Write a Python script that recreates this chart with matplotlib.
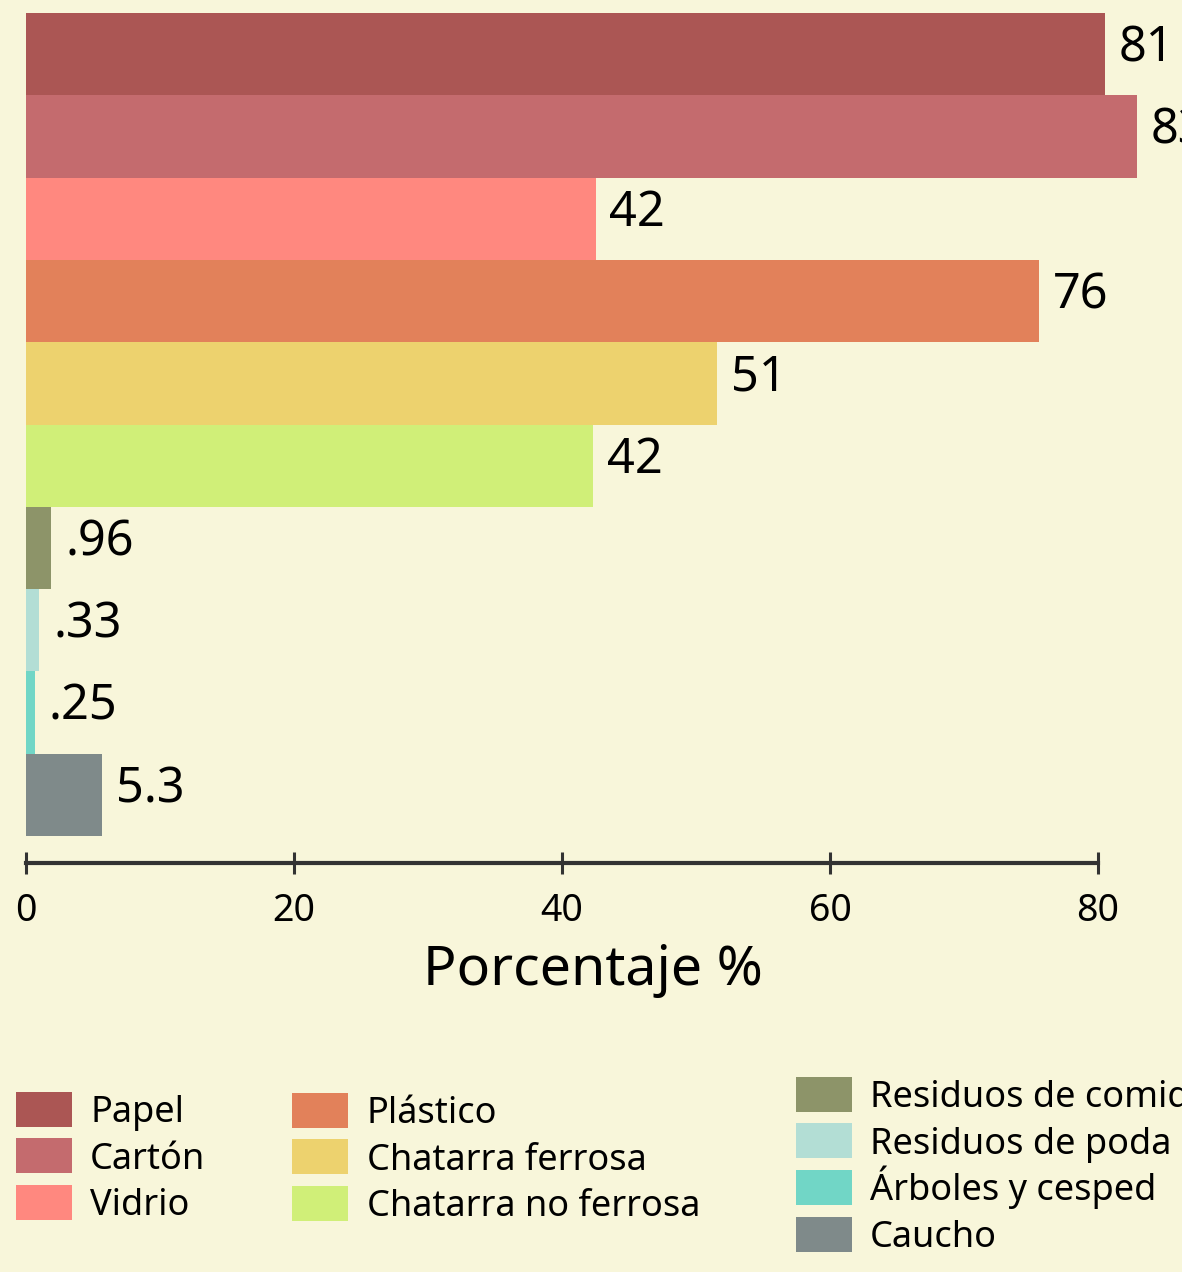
import matplotlib.pyplot as plt
from matplotlib.patches import Rectangle

plt.rcParams['font.family'] = ['Noto Sans', 'DejaVu Sans']

categorias = ['Papel', 'Cartón', 'Vidrio', 'Plástico', 'Chatarra ferrosa',
              'Chatarra no ferrosa', 'Residuos de comida', 'Residuos de poda',
              'Árboles y cesped', 'Caucho']
porcentaje = [80.5, 82.9, 42.5, 75.6, 51.6, 42.3, 1.9, 1.0, 0.65, 5.7]
etiquetas = ['81', '83', '42', '76', '51', '42', '.96', '.33', '.25', '5.3']
colores = ['#AB5654', '#C46B6E', '#FF887F', '#E2815A', '#EDD26E',
           '#D0EF78', '#8D9469', '#B3DED5', '#71D6C6', '#7F8A8A']
ticks_x = [0, 20, 40, 60, 80]

fondo = '#F8F6DA'
W, H = 1182, 1272

fig = plt.figure(figsize=(W / 100, H / 100), dpi=100, facecolor=fondo)
ax = fig.add_axes([26 / W, 1 - 863 / H, 1 - 26 / W, 850 / H])
ax.set_facecolor(fondo)

pos = list(range(len(categorias)))
ax.barh(pos, porcentaje, height=1.0, color=colores, linewidth=0)

for p, v, lab in zip(pos, porcentaje, etiquetas):
    ax.annotate(lab, (v, p), xytext=(10, 4), textcoords='offset points',
                va='center', ha='left', fontsize=35, color='black',
                annotation_clip=False)

ax.set_xlim(0, (W - 26) / 13.4)
ax.set_ylim(9.5 + 27 / 82.3, -0.5)

for s in ['top', 'right', 'left']:
    ax.spines[s].set_visible(False)
ax.spines['bottom'].set_bounds(0, 80)
ax.spines['bottom'].set_linewidth(3)
ax.spines['bottom'].set_color('#333333')

ax.set_yticks([])
ax.set_xticks(ticks_x)
ax.tick_params(axis='x', direction='inout', length=16, width=2.2,
               color='#333333', labelsize=27, pad=13, labelcolor='black')

fig.text(593 / W, 1 - 970 / H, 'Porcentaje %', fontsize=40,
         ha='center', va='center', color='black')

# leyenda en tres columnas (x del cuadro, x del texto, y del primer centro)
columnas = [(0, 3, 16, 90, 1109), (3, 6, 292, 367, 1110), (6, 10, 796, 870, 1094)]
paso = 46.7
for a, b, xr, xt, y0 in columnas:
    for k, i in enumerate(range(a, b)):
        yc = y0 + k * paso
        fig.add_artist(Rectangle((xr / W, 1 - (yc + 17.5) / H), 56 / W, 35 / H,
                                 transform=fig.transFigure,
                                 facecolor=colores[i], edgecolor='none'))
        fig.text(xt / W, 1 - (yc + 13) / H, categorias[i], fontsize=26,
                 ha='left', va='baseline', color='black')

fig.savefig('out.png', dpi=100, facecolor=fondo)
